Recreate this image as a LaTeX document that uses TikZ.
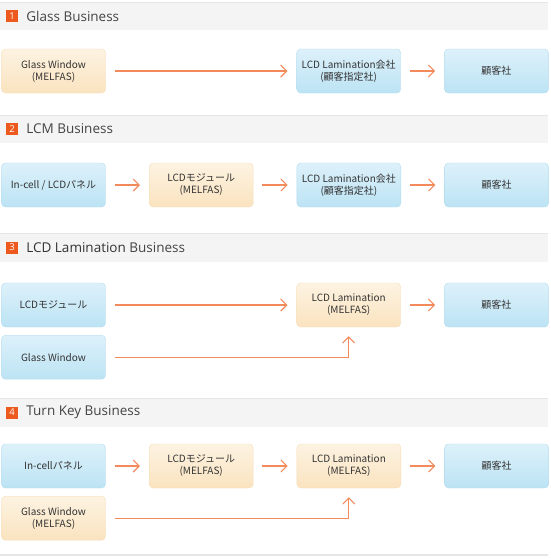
\documentclass[tikz,border=0pt]{standalone}
\usepackage{fontspec}
\setmainfont{Open Sans}
\newfontfamily\jpfont{Noto Sans CJK JP}
\usetikzlibrary{arrows.meta}

\definecolor{barc}{HTML}{F4F4F4}
\definecolor{barline}{HTML}{E6E6E6}
\definecolor{numc}{HTML}{EE5A1E}
\definecolor{ttlc}{HTML}{444444}
\definecolor{txtc}{HTML}{333333}
\definecolor{flowc}{HTML}{F28A5C}
\definecolor{custline}{HTML}{B3DCEE}
\definecolor{custtop}{HTML}{DDF1FA}
\definecolor{custbot}{HTML}{BCE3F4}
\definecolor{melline}{HTML}{F6DDB6}
\definecolor{meltop}{HTML}{FDF3E2}
\definecolor{melbot}{HTML}{FAE3BF}

\begin{document}
\begin{tikzpicture}[x=1pt,y=-1pt,>={Straight Barb[length=6pt,width=12pt]}]
\tikzstyle{cust}=[draw=custline, top color=custtop, bottom color=custbot,
rounded corners=4pt, minimum width=104pt, minimum height=44pt,
align=center, text=txtc, font=\jpfont\fontsize{10}{12}\selectfont]
\tikzstyle{melf} = [cust, draw=melline, top color=meltop, bottom color=melbot]
\tikzstyle{flow} = [->, draw=flowc, line width=1.1pt, shorten >=9pt, shorten <=9pt]
\tikzstyle{num} = [fill=numc, text=white, minimum size=12pt, inner sep=0pt,
font=\fontsize{9.5}{9.5}\selectfont]
\tikzstyle{ttl} = [anchor=west, inner sep=0pt, text=ttlc, font=\fontsize{13.5}{15}\selectfont]

\useasboundingbox (0,0) rectangle (550,560);

% section headers
\foreach \y/\h in {2/28, 115/28, 233/29, 398/29}{
  \fill[barc] (0,\y) rectangle (548,\y+\h);
  \draw[barline] (0,\y) -- (548,\y);
}
\draw[barline, line width=1.5pt] (0,555) -- (548,555);

\node (n1) [num] at (12,16) {1};
\path (n1.east)+(8,0) node (t1) [ttl] {Glass Business};
\node (n2) [num] at (12,129) {2};
\path (n2.east)+(8,0) node (t2) [ttl] {LCM Business};
\node (n3) [num] at (12,247.5) {3};
\path (n3.east)+(8,0) node (t3) [ttl] {\textcolor{black!80}{LCD Lamination} Business};
\node (n4) [num] at (12,412.5) {4};
\path (n4.east)+(8,0) node (t4) [ttl] {Turn Key Business};

% 1 Glass Business
\node (gw1) [melf] at (53.5,71) {Glass Window\\(MELFAS)};
\path (gw1.east)+(243,0) node (lam1) [cust] {LCD Lamination会社\\(顧客指定社)};
\path (lam1.east)+(95.5,0) node (cl1) [cust] {顧客社};
\path [draw, flow] (gw1)  -- (lam1);
\path [draw, flow] (lam1) -- (cl1);

% 2 LCM Business
\node (pn2) [cust] at (53.5,185) {In-cell / LCDパネル};
\path (pn2.east)+(95.5,0) node (md2) [melf] {LCDモジュール\\(MELFAS)};
\path (md2.east)+(95.5,0) node (lam2) [cust] {LCD Lamination会社\\(顧客指定社)};
\path (lam2.east)+(95.5,0) node (cl2) [cust] {顧客社};
\path [draw, flow] (pn2)  -- (md2);
\path [draw, flow] (md2)  -- (lam2);
\path [draw, flow] (lam2) -- (cl2);

% 3 LCD Lamination Business
\node (md3) [cust] at (53.5,305) {LCDモジュール};
\path (md3.south)+(0,30) node (gw3) [cust] {Glass Window};
\path (md3.east)+(243,0) node (lam3) [melf] {LCD Lamination\\(MELFAS)};
\path (lam3.east)+(95.5,0) node (cl3) [cust] {顧客社};
\path [draw, flow] (md3)  -- (lam3);
\path [draw, flow] (gw3)  -| (lam3);
\path [draw, flow] (lam3) -- (cl3);

% 4 Turn Key Business
\node (pn4) [cust] at (53.5,466) {In-cellパネル};
\path (pn4.south)+(0,30) node (gw4) [melf] {Glass Window\\(MELFAS)};
\path (pn4.east)+(95.5,0) node (md4) [melf] {LCDモジュール\\(MELFAS)};
\path (md4.east)+(95.5,0) node (lam4) [melf] {LCD Lamination\\(MELFAS)};
\path (lam4.east)+(95.5,0) node (cl4) [cust] {顧客社};
\path [draw, flow] (pn4)  -- (md4);
\path [draw, flow] (md4)  -- (lam4);
\path [draw, flow] (gw4)  -| (lam4);
\path [draw, flow] (lam4) -- (cl4);
\end{tikzpicture}
\end{document}
